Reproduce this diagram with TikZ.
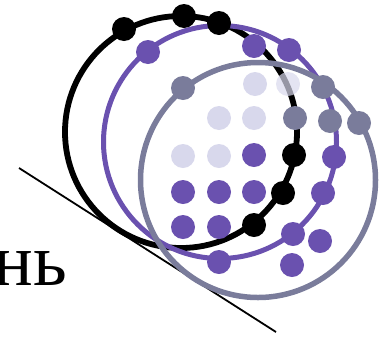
\documentclass[tikz,border=0pt]{standalone}
\usepackage{fontspec}
\newfontfamily\cyrfont{Liberation Serif}
\usepackage{xcolor}
\definecolor{ringpurple}{HTML}{6A51AF}
\definecolor{ringgray}{HTML}{7A7C9B}
\definecolor{ringpale}{HTML}{D8D8EC}
\usetikzlibrary{positioning}

\begin{document}
\begin{tikzpicture}[
    x=1pt, y=-1pt,
    ring/.style={circle, draw, inner sep=0pt, minimum size=#1},
    dot/.style={circle, inner sep=0pt, minimum size=24pt},
    blackdot/.style={dot, fill=black},
    purpledot/.style={dot, fill=ringpurple},
    graydot/.style={dot, fill=ringgray},
    paledot/.style={dot, fill=ringpale},
]
\useasboundingbox (0,0) rectangle (385,338);

% Word fragment
\node[font=\cyrfont\fontsize{74}{74}\selectfont, anchor=base east, inner sep=0pt] (word) at (67,285) {нь};

% Tangent line
\coordinate (lineA) at (19,168);
\coordinate (lineB) at (276,332);
\draw[line width=1.8pt] (lineA) -- (lineB);

% Rings
\node[ring=232pt, line width=5.8pt] (blackring) at (181,132) {};
\node[ring=233pt, draw=ringpurple, line width=5pt] (purplering) at (220,142) {};
\node[ring=235pt, draw=ringgray, line width=5.5pt] (grayring) at (258,180) {};

% Pale dots
\foreach \x/\y [count=\i] in {255/84, 219/118, 254/118, 183/156, 219/156}
    \node[paledot] (pale\i) at (\x,\y) {};
\node[paledot, opacity=0.7] (pale6) at (288,84) {};

% Purple dots
\foreach \x/\y [count=\i] in {254/155, 183/192, 219/192, 254/192, 183/227, 219/227,
    148/52, 254/46, 289/50, 334/157, 323/193, 293/234, 219/262, 320/241, 292/265}
    \node[purpledot] (purple\i) at (\x,\y) {};

% Gray dots
\foreach \x/\y [count=\i] in {183/88, 323/87, 295/118, 330/121, 359/123}
    \node[graydot] (gray\i) at (\x,\y) {};

% Black dots
\foreach \x/\y [count=\i] in {124/29, 184/16, 219/23, 294/155, 283/193, 254/225}
    \node[blackdot] (black\i) at (\x,\y) {};

\end{tikzpicture}
\end{document}
